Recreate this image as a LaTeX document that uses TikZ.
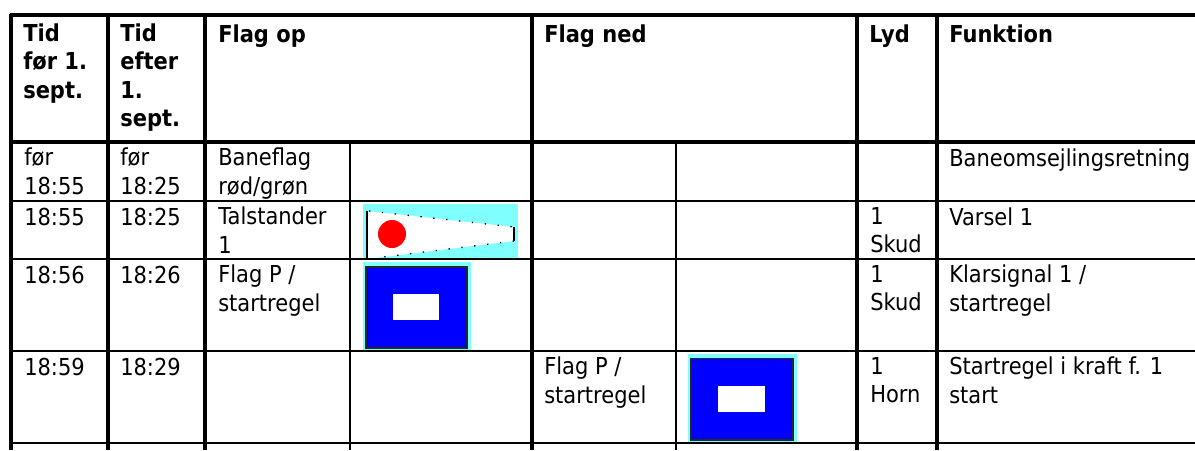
\documentclass[tikz,border=0pt]{standalone}
\usepackage{fontspec}
\setmainfont{DejaVu Sans}[FakeStretch=0.9]
\usepackage{tikz}
\definecolor{flagblue}{RGB}{0,0,255}
\definecolor{flagcyan}{RGB}{128,255,255}
\definecolor{flagred}{RGB}{255,0,0}

\begin{document}
\begin{tikzpicture}[x=0.75pt,y=-0.75pt,
    cell/.style={anchor=north west, inner sep=0pt, align=left, yshift=14pt,
        execute at begin node={\rule{0pt}{14pt}},
        font=\fontsize{17.5}{21.4}\selectfont},
    head/.style={cell, font=\fontsize{17.5}{21.4}\selectfont\bfseries},
    major/.style={line width=2.3pt},
    minor/.style={line width=0.9pt}]
    \useasboundingbox (0,0) rectangle (1195,450);

    % Talstander 1 (pennant)
    \fill[flagcyan] (363,204) rectangle (518,258);
    \fill[white] (367,211) -- (514,227) -- (514,241) -- (375,258) -- (367,258) -- cycle;
    \draw[dash pattern={on 1pt off 8.7pt}, line width=1pt] (369,211) -- (514,227);
    \draw[dash pattern={on 1pt off 8.7pt}, line width=1pt] (514,241) -- (375,258);
    \draw[line width=1pt] (367,211) -- (367,258);
    \draw[line width=1.4pt] (514,227) -- (514,241);
    \fill[flagred] (392,234) circle (14);

    % Flag P (op)
    \fill[flagcyan] (363,262) rectangle (471,351);
    \draw[fill=flagblue, draw=black!85, line width=1.3pt] (366,267) rectangle (467,348);
    \fill[white] (393,294) rectangle (439,320);

    % Flag P (ned)
    \fill[flagcyan] (688,354) rectangle (797,442);
    \draw[fill=flagblue, draw=black!85, line width=1.3pt] (691,358.5) rectangle (793,440);
    \fill[white] (718,386) rectangle (765,412);

    % horizontal rules
    \draw[major] (9.5,15) -- (1195,15);
    \draw[major] (9.5,142) -- (1195,142);
    \draw[minor] (11,201) -- (1195,201);
    \draw[minor] (11,259) -- (1195,259);
    \draw[minor] (11,351) -- (1195,351);
    \draw[minor] (11,443) -- (1195,443);

    % vertical rules
    \draw[major] (11,14) -- (11,450);
    \draw[major] (108,14) -- (108,450);
    \draw[major] (205,14) -- (205,450);
    \draw[major] (532,14) -- (532,450);
    \draw[major] (857,14) -- (857,450);
    \draw[major] (937,14) -- (937,450);
    \draw[minor] (350,142) -- (350,450);
    \draw[minor] (676,142) -- (676,450);

    % header row
    \node[head] (hBefore) at (23,42) {Tid\\før 1.\\sept.};
    \node[head] (hAfter) at (120,42) {Tid\\efter\\1.\\sept.};
    \node[head] (hUp) at (218,42) {Flag op};
    \node[head] (hDown) at (544,42) {Flag ned};
    \node[head] (hSound) at (869,42) {Lyd};
    \node[head] (hFunc) at (949,42) {Funktion};

    % row: baneflag
    \node[cell] (before1) at (24,166.5) {før\\18:55};
    \node[cell] (after1) at (120,166.5) {før\\18:25};
    \node[cell] (up1) at (218,166.5) {Baneflag\\rød/grøn};
    \node[cell] (func1) at (949,166.5) {Baneomsejlingsretning};

    % row: varsel
    \node[cell] (before2) at (24,225.5) {18:55};
    \node[cell] (after2) at (120,225.5) {18:25};
    \node[cell] (up2) at (218,225.5) {Talstander\\1};
    \node[cell] (sound2) at (870,225.5) {1\\Skud};
    \node[cell] (func2) at (949,225.5) {Varsel 1};

    % row: klarsignal
    \node[cell] (before3) at (24,283.5) {18:56};
    \node[cell] (after3) at (120,283.5) {18:26};
    \node[cell] (up3) at (218,283.5) {Flag P /\\startregel};
    \node[cell] (sound3) at (870,283.5) {1\\Skud};
    \node[cell] (func3) at (949,283.5) {Klarsignal 1 /\\startregel};

    % row: startregel i kraft
    \node[cell] (before4) at (24,375.5) {18:59};
    \node[cell] (after4) at (120,375.5) {18:29};
    \node[cell] (down4) at (544,375.5) {Flag P /\\startregel};
    \node[cell] (sound4) at (870,375.5) {1\\Horn};
    \node[cell] (func4) at (949,375.5) {Startregel i kraft f. 1\\start};
\end{tikzpicture}
\end{document}
